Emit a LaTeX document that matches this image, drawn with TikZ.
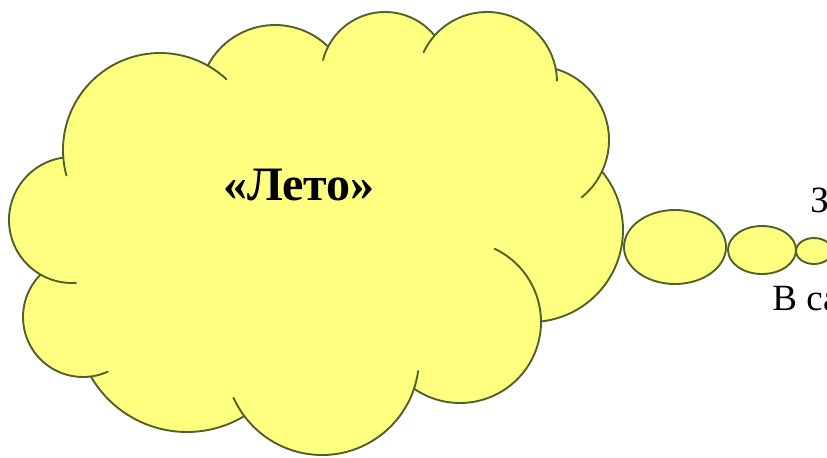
\documentclass[tikz,border=0pt]{standalone}
\usepackage{fontspec}
\setmainfont{Liberation Serif}
\usetikzlibrary{shapes.geometric}
\definecolor{cloudc}{RGB}{255,255,128}
\definecolor{edgec}{RGB}{79,98,40}
\definecolor{inkc}{RGB}{0,0,0}
\tikzset{
  puff/.style={draw=edgec, line width=0.95pt, line cap=round},
  puffill/.style={fill=cloudc, draw=none},
  bubble/.style={ellipse, draw=edgec, line width=0.95pt, fill=cloudc, inner sep=0pt},
  title/.style={font=\fontsize{24}{28}\selectfont\bfseries, text=inkc, anchor=base, inner sep=0pt},
  side/.style={font=\fontsize{18.5}{22}\selectfont, text=inkc, anchor=base west, inner sep=0pt},
}

\begin{document}
\begin{tikzpicture}[x=0.5pt, y=-0.5pt]

  \useasboundingbox (0,0) rectangle (827,457);
  \clip (0,0) rectangle (827,457);

  % the cloud: lobes as centre/radius, outline arc from angle a to b
  \foreach \x/\y/\r/\a/\b in {72/220/63/86.4/262.1, 160/150/97/164.8/313.3,
      275/101/76/207.8/314.4, 385/76/64/194.5/320.8, 487/82/70/205.1/359,
      535/140/74/286.3/411, 531/230/92/-39.5/83.8, 460/322/81/-64.7/124.6,
      322/358/97/7.7/155.8, 187/321/111/58.9/150, 83/317/60/65.6/225}
    \fill[puffill] (\x,\y) circle[radius=\r];
  \fill[puffill] (72,220) -- (160,150) -- (275,101) -- (385,76) -- (487,82)
    -- (535,140) -- (531,230) -- (460,322) -- (322,358) -- (187,321) -- (83,317) -- cycle;
  \foreach \x/\y/\r/\a/\b in {72/220/63/86.4/262.1, 160/150/97/164.8/313.3,
      275/101/76/207.8/314.4, 385/76/64/194.5/320.8, 487/82/70/205.1/359,
      535/140/74/286.3/411, 531/230/92/-39.5/83.8, 460/322/81/-64.7/124.6,
      322/358/97/7.7/155.8, 187/321/111/58.9/150, 83/317/60/65.6/225}
    \draw[puff] (\x,\y) ++(\a:\r) arc[start angle=\a, end angle=\b, radius=\r];

  \node[title] (summer) at (299,200) {«Лето»};

  % the trail of bubbles
  \node[bubble, minimum width=51pt, minimum height=37pt] (bigbub) at (675,247) {};
  \node[bubble, minimum width=34pt, minimum height=24pt] (midbub) at (762,250) {};
  \node[bubble, minimum width=18pt, minimum height=13pt] (tinybub) at (814,251) {};

  \node[side] (upper) at (810,212) {З};
  \node[side] (lower) at (772,310) {В са};

\end{tikzpicture}
\end{document}
